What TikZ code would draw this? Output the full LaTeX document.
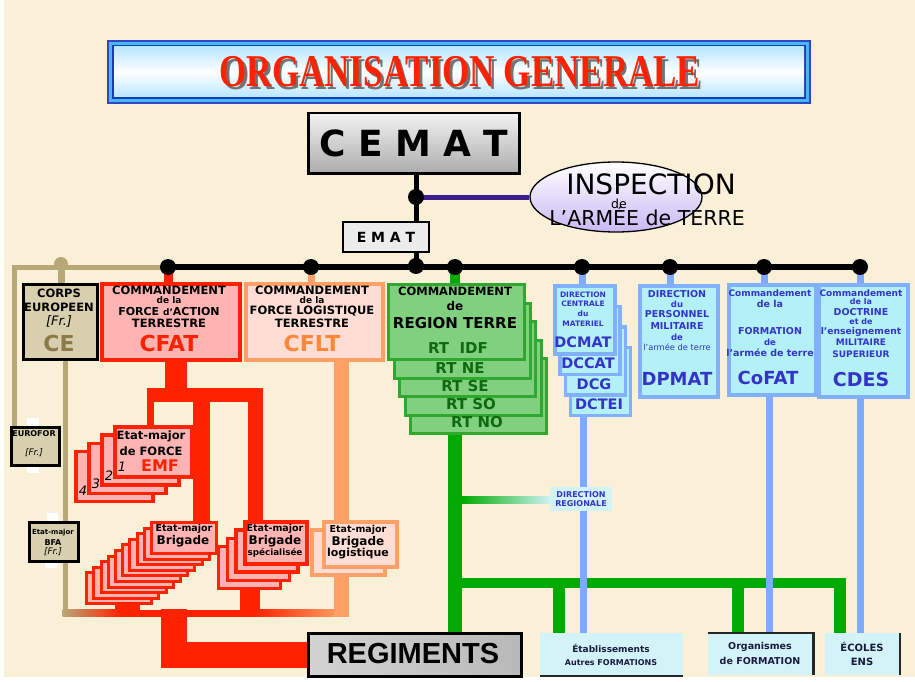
\documentclass[tikz,border=0pt]{standalone}
\usepackage{graphicx}
\usepackage{fontspec}
\setmainfont{DejaVu Sans}
\newfontfamily\titlefont{Liberation Serif}
\newfontfamily\regfont{Liberation Sans}
\usetikzlibrary{calc,shapes.geometric}
\pgfdeclarelayer{bgl}
\pgfdeclarelayer{lines}
\pgfsetlayers{bgl,lines,main}
\definecolor{bgc}{HTML}{FAF0D8}
\definecolor{tanc}{HTML}{B8A878}
\definecolor{tanfill}{HTML}{D8CFAE}
\definecolor{tantext}{HTML}{8C7A4A}
\definecolor{rd}{HTML}{FF2200}
\definecolor{pinkfill}{HTML}{FFB4B4}
\definecolor{org}{HTML}{FFA066}
\definecolor{orgfill}{HTML}{FFDCD4}
\definecolor{orgtext}{HTML}{FF8838}
\definecolor{grn}{HTML}{00AA00}
\definecolor{grnfill}{HTML}{80D080}
\definecolor{grnline}{HTML}{30A830}
\definecolor{grntext}{HTML}{0E6A0E}
\definecolor{blu}{HTML}{80AAFF}
\definecolor{blufill}{HTML}{B4F0F8}
\definecolor{bluline}{HTML}{80B0FF}
\definecolor{blutext}{HTML}{3434C8}
\definecolor{purp}{HTML}{3C1E8C}
\definecolor{lav}{HTML}{C8B8F4}
\definecolor{cyanlt}{HTML}{D2F4F8}
\definecolor{navy}{HTML}{1A1A40}
\definecolor{tb1}{HTML}{2A48C8}
\definecolor{tb2}{HTML}{48B8F0}
\definecolor{tb3}{HTML}{1A38B8}
\definecolor{tb4}{HTML}{B8E6FF}
\newcommand\fz[1]{\fontsize{#1}{#1}\selectfont}
\newcommand\titletext{\titlefont\bfseries\fz{35}\scalebox{1}[1.3]{ORGANISATION GENERALE}}
\begin{document}
\begin{tikzpicture}[x=1pt,y=-1pt,
  tx/.style={inner sep=0pt, font=\bfseries},
  itx/.style={inner sep=0pt, font=\itshape},
  rtx/.style={inner sep=0pt},
  bxs/.style={anchor=north west, inner sep=0pt},
  cebox/.style={bxs, fill=tanfill, draw=black, line width=2.5pt},
  redbox/.style={bxs, fill=pinkfill, draw=rd, line width=3.5pt},
  orgbox/.style={bxs, fill=orgfill, draw=org, line width=3.5pt},
  grnbox/.style={bxs, fill=grnfill, draw=grnline, line width=3pt},
  blubox/.style={bxs, fill=blufill, draw=bluline, line width=3.5pt},
  cybox/.style={bxs, fill=cyanlt},
]
\useasboundingbox (0,0) rectangle (915,682);
\begin{pgfonlayer}{bgl}
\fill[white] (0,0) rectangle (915,682);
\fill[bgc] (4,0) rectangle (915,677);
\end{pgfonlayer}

% ---------- title
\fill[tb1] (107,40) rectangle (811,104);
\fill[tb2] (109,42) rectangle (809,102);
\fill[tb3] (112,45) rectangle (806,99);
\shade[top color=tb4, bottom color=tb4, middle color=white] (114,47) rectangle (804,97);
\node[inner sep=0pt, text=rd] (title) at (460,73) {\rlap{\hspace{2.5pt}\raisebox{-2.5pt}{\color{black!55}\titletext}}\titletext};

% ---------- coordinates
\coordinate (c1) at (168,267);
\coordinate (c2) at (311,267);
\coordinate (c3) at (416,266);
\coordinate (c4) at (455,267);
\coordinate (c5) at (582,267);
\coordinate (c6) at (670,267);
\coordinate (c7) at (764,267);
\coordinate (c8) at (860,267);
\coordinate (cB) at (416,267);
\coordinate (cI) at (416,197);
\coordinate (tL) at (14,267);
\coordinate (tD) at (61,264);

% ---------- top boxes
\node[bxs, draw=black, line width=2.5pt, top color=gray!10, bottom color=gray!65, minimum width=211pt, minimum height=60pt] (cemat) at (307,112) {};
\node[inner sep=0pt] (cematt) at (cemat.center) {\bfseries\fz{36}C E M A T};
\node[ellipse, draw=black, line width=1.3pt, top color=white, bottom color=lav, minimum width=172pt, minimum height=70pt, inner sep=0pt] (insp) at (616,197) {};
\node[rtx] (insp1) at (651,184) {\fz{28}INSPECTION};
\node[rtx] (insp2) at (619,203.5) {\fz{12.5}de};
\node[rtx] (insp3) at (647,216) {\fz{20.5}L'ARMÉE de TERRE};
\node[bxs, draw=black, line width=2pt, fill=gray!15, minimum width=86pt, minimum height=30pt] (emat) at (342,221) {};
\node[tx] (ematt) at (emat.center) {\fz{14}E M A T};

% ---------- level-2 boxes
\node[cebox, minimum width=74pt, minimum height=75pt] (ce) at (22,283) {};
\node[redbox, minimum width=138pt, minimum height=76pt] (cfat) at (100,282) {};
\node[orgbox, minimum width=137pt, minimum height=76pt] (cflt) at (244,282) {};
\foreach \k in {4,...,0} \node[grnbox, minimum width=136pt, minimum height=75pt] (rt\k) at ({387+5.5*\k},{283+18.5*\k}) {};
\foreach \k in {3,...,0} \node[blubox, minimum width=60pt, minimum height=68pt] (dc\k) at ({553+5.3*\k},{284+20.5*\k}) {};
\node[blubox, minimum width=78pt, minimum height=111pt] (dpmat) at (638,284) {};
\node[blubox, minimum width=87pt, minimum height=110pt] (cofat) at (727,283) {};
\node[blubox, minimum width=89pt, minimum height=112pt] (cdes) at (817,283) {};

% ---------- lower left boxes
\fill[white] (27,418) rectangle (39,426);
\fill[white] (27,464) rectangle (39,473);
\fill[white] (47,513) rectangle (58,521);
\fill[white] (45,560) rectangle (57,568);
\node[cebox, minimum width=48pt, minimum height=38pt] (eurofor) at (10,426) {};
\node[cebox, minimum width=49pt, minimum height=39pt] (bfa) at (28,521) {};
\foreach \k in {3,2,1,0} \node[redbox, minimum width=77pt, minimum height=50pt] (emf\k) at ({113-13*\k},{425+8.3*\k}) {};
\foreach \k in {9,...,0} \node[redbox, line width=3pt, minimum width=65pt, minimum height=31pt] (brig\k) at ({150-7.2*\k},{521+5.6*\k}) {};
\foreach \k in {3,2,1,0} \node[redbox, minimum width=62pt, minimum height=42pt] (spec\k) at ({243-8.7*\k},{520+8.3*\k}) {};
\foreach \k in {1,0} \node[orgbox, minimum width=73pt, minimum height=45pt] (logi\k) at ({322-12*\k},{520+8*\k}) {};

% ---------- bottom boxes
\node[bxs, draw=black, line width=2.5pt, left color=gray!35, middle color=gray!3, right color=gray!55, minimum width=213pt, minimum height=43pt] (regiments) at (307,632) {};
\node[inner sep=0pt] (regt) at (413,654) {\regfont\bfseries\fz{29}REGIMENTS};
\node[cybox, minimum width=143pt, minimum height=43pt] (etab) at (540,633) {};
\node[cybox, minimum width=105pt, minimum height=42pt] (orga) at (708,633) {};
\node[cybox, minimum width=75pt, minimum height=42pt] (ecoles) at (825,633) {};
\draw[black!85, line width=2pt] (etab.south west) -- (etab.south east);
\draw[black!85, line width=2.5pt] (orga.north west) -- (orga.north east) -- (orga.south east);
\draw[black!85, line width=2pt] (ecoles.north east) -- (ecoles.south east);
\node[cybox, minimum width=62pt, minimum height=24pt] (dirreg) at (550,487) {};

% ---------- connectors
\begin{pgfonlayer}{lines}
\draw[line width=5pt] (cemat.south -| cB) -- (cB);
\draw[purp, line width=5pt] (cI) -- (insp.west);
% tan
\draw[tanc, line width=5pt, line join=miter] (tL |- eurofor.north) -- (tL) -- (c1);
\draw[tanc, line width=7pt] (tD) -- (tD |- ce.north);
\coordinate (tB) at (65,616.5);
\draw[tanc, line width=5pt] (tB |- ce.south) -- (tB);
% red
\coordinate (rA) at (176,402);
\coordinate (rL) at (146.5,395);
\coordinate (rR) at (263,395);
\coordinate (rE) at (150,395);
\coordinate (rM) at (201,395);
\coordinate (rS) at (255.5,395);
\coordinate (rB) at (127,613);
\coordinate (rC) at (250,613);
\coordinate (rD) at (173.5,609);
\draw[rd, line width=9pt] (c1) -- (c1 |- cfat.north);
\draw[rd, line width=22pt] (rA |- cfat.south) -- (rA);
\draw[rd, line width=14pt] (rL) -- (rR);
\draw[rd, line width=7pt] (rE) -- (rE |- emf0.north);
\draw[rd, line width=17pt] (rM) -- (rM |- brig0.north);
\draw[rd, line width=15pt] (rS) -- (rS |- spec0.north);
\draw[rd, line width=25pt] (rB |- brig9.south) -- (rB);
\draw[rd, line width=20pt] (rC |- spec3.south) -- (rC);
\shade[left color=tanc, right color=rd] (62.5,609.5) rectangle (120,616.5);
\fill[rd] (119.5,609.5) rectangle (255,616.5);
\shade[left color=rd, right color=org] (254.5,609.5) rectangle (341,616.5);
\draw[rd, line width=26pt, line join=miter] (rD) |- (regiments.west);
% orange
\coordinate (oX) at (341,616.5);
\draw[org, line width=7pt] (c2) -- (c2 |- cflt.north);
\draw[org, line width=15pt] (oX |- cflt.south) -- (oX |- logi0.north);
\draw[org, line width=15pt] (oX |- logi1.south) -- (oX);
% green
\coordinate (gX) at (455,583);
\coordinate (gL) at (448,583);
\coordinate (gR) at (846,583);
\coordinate (g1) at (559,583);
\coordinate (g2) at (738,583);
\coordinate (g3) at (840,583);
\draw[grn, line width=10pt] (c4) -- (c4 |- rt0.north);
\draw[grn, line width=14pt] (gX |- rt4.south) -- (gX |- regiments.north);
\draw[grn, line width=10pt] (gL) -- (gR);
\draw[grn, line width=12pt] (g1) -- (g1 |- etab.north);
\draw[grn, line width=12pt] (g2) -- (g2 |- orga.north);
\draw[grn, line width=12pt] (g3) -- (g3 |- ecoles.north);
\shade[left color=grn, right color=cyanlt] (462,496.5) rectangle (551,503.5);
% blue
\coordinate (b1) at (583,600);
\coordinate (b2) at (769,600);
\draw[blu, line width=7pt] (c5) -- (c5 |- dc0.north);
\draw[blu, line width=7pt] (b1 |- dc3.south) -- (b1 |- etab.north);
\draw[blu, line width=7pt] (c6) -- (c6 |- dpmat.north);
\draw[blu, line width=7pt] (c7) -- (c7 |- cofat.north);
\draw[blu, line width=7pt] (b2 |- cofat.south) -- (b2 |- orga.north);
\draw[blu, line width=7pt] (c8) -- (c8 |- cdes.north);
\draw[blu, line width=7pt] (c8 |- cdes.south) -- (c8 |- ecoles.north);
% main bar
\draw[line width=6pt] (c1) -- (c8);
\end{pgfonlayer}

% ---------- dots
\foreach \p in {c1,c2,c3,c4,c5,c6,c7,c8,cI} \fill (\p) circle (8pt);
\fill[tanc] (tD) circle (7pt);

% ---------- texts
% CE
\node[tx] (ce1) at (59,293) {\fz{11.5}CORPS};
\node[tx] (ce2) at (59,307) {\fz{11.5}EUROPEEN};
\node[itx] (ce3) at (59,321) {\fz{13}[Fr.]};
\node[tx, text=tantext] (ce4) at (59,343) {\fz{22}CE};
% CFAT
\node[tx] (fa1) at (169,290) {\fz{11.5}COMMANDEMENT};
\node[tx] (fa2) at (169,300) {\fz{9}de la};
\node[tx] (fa3) at (169,311) {\fz{11}FORCE {\fz{9}d'}ACTION};
\node[tx] (fa4) at (169,323) {\fz{11.5}TERRESTRE};
\node[tx, text=rd] (fa5) at (169,343) {\fz{22}CFAT};
% CFLT
\node[tx] (fl1) at (312,290) {\fz{11.5}COMMANDEMENT};
\node[tx] (fl2) at (312,300) {\fz{9}de la};
\node[tx] (fl3) at (312,311) {\fz{11.5}FORCE LOGISTIQUE};
\node[tx] (fl4) at (312,323) {\fz{11.5}TERRESTRE};
\node[tx, text=orgtext] (fl5) at (312,343) {\fz{22}CFLT};
% RT
\node[tx] (rt1t) at (455,291) {\fz{11.5}COMMANDEMENT};
\node[tx] (rt2t) at (455,306) {\fz{12}de};
\node[tx] (rt3t) at (455,323) {\fz{15}REGION TERRE};
\node[tx, text=grntext] (rta) at (458,348) {\fz{15}RT\ \ IDF};
\node[tx, text=grntext] (rtb) at (460,368) {\fz{15}RT NE};
\node[tx, text=grntext] (rtc) at (465,386) {\fz{15}RT SE};
\node[tx, text=grntext] (rtd) at (471,404) {\fz{15}RT SO};
\node[tx, text=grntext] (rte) at (477,422) {\fz{15}RT NO};
% DC
\node[tx, text=blutext] (dct1) at (583,295) {\fz{7.5}DIRECTION};
\node[tx, text=blutext] (dct2) at (583,304) {\fz{7.5}CENTRALE};
\node[tx, text=blutext] (dct3) at (583,314) {\fz{7.5}du};
\node[tx, text=blutext] (dct4) at (583,324) {\fz{7.5}MATERIEL};
\node[tx, text=blutext] (dct5) at (583,342) {\fz{14.5}DCMAT};
\node[tx, text=blutext] (dct6) at (588,363) {\fz{14.5}DCCAT};
\node[tx, text=blutext] (dct7) at (594,384) {\fz{14.5}DCG};
\node[tx, text=blutext] (dct8) at (599,404) {\fz{14.5}DCTEI};
% DPMAT
\node[tx, text=blutext] (dp1) at (677,294) {\fz{9.5}DIRECTION};
\node[tx, text=blutext] (dp2) at (677,304) {\fz{8.5}du};
\node[tx, text=blutext] (dp3) at (677,314) {\fz{9.5}PERSONNEL};
\node[tx, text=blutext] (dp4) at (677,326) {\fz{9.5}MILITAIRE};
\node[tx, text=blutext] (dp5) at (677,337) {\fz{8.5}de};
\node[rtx, text=blutext] (dp6) at (677,347) {\fz{8.3}l'armée de terre};
\node[tx, text=blutext] (dp7) at (677,379) {\fz{18}DPMAT};
% CoFAT
\node[tx, text=blutext] (cf1) at (770,293) {\fz{9}Commandement};
\node[tx, text=blutext] (cf2) at (770,304) {\fz{9.5}de la};
\node[tx, text=blutext] (cf3) at (770,331) {\fz{9.5}FORMATION};
\node[tx, text=blutext] (cf4) at (770,342) {\fz{8.5}de};
\node[tx, text=blutext] (cf5) at (770,353) {\fz{9.5}l'armée de terre};
\node[tx, text=blutext] (cf6) at (768,378) {\fz{18}CoFAT};
% CDES
\node[tx, text=blutext] (cd1) at (861,293) {\fz{9}Commandement};
\node[tx, text=blutext] (cd2) at (861,302) {\fz{8}de la};
\node[tx, text=blutext] (cd3) at (861,312) {\fz{9.5}DOCTRINE};
\node[tx, text=blutext] (cd4) at (861,322) {\fz{8}et de};
\node[tx, text=blutext] (cd5) at (861,332) {\fz{9.2}l'enseignement};
\node[tx, text=blutext] (cd6) at (861,342) {\fz{9}MILITAIRE};
\node[tx, text=blutext] (cd7) at (861,354) {\fz{9}SUPERIEUR};
\node[tx, text=blutext] (cd8) at (861,380) {\fz{19}CDES};
% direction regionale
\node[tx, text=blutext] (dr1) at (581,495) {\fz{8}DIRECTION};
\node[tx, text=blutext] (dr2) at (581,504) {\fz{8}REGIONALE};
% EUROFOR, BFA
\node[tx] (eu1) at (34,434) {\fz{8}EUROFOR};
\node[itx] (eu2) at (34,453) {\fz{9}[Fr.]};
\node[tx] (bf1) at (53,533) {\fz{7}Etat-major};
\node[tx] (bf2) at (53,543) {\fz{8}BFA};
\node[itx] (bf3) at (53,552) {\fz{9}[Fr.]};
% EMF
\node[tx] (em1) at (151,436) {\fz{11.5}Etat-major};
\node[tx] (em2) at (151,451) {\fz{11.5}de FORCE};
\node[tx, text=rd] (em3) at (160,466) {\fz{16}EMF};
\node[itx] (n1) at (122,467) {\fz{13}1};
\node[itx] (n2) at (109,476) {\fz{13}2};
\node[itx] (n3) at (96,484) {\fz{13}3};
\node[itx] (n4) at (83,491) {\fz{13}4};
% brigades
\node[tx] (br1) at (184,529) {\fz{9.5}Etat-major};
\node[tx] (br2) at (183,541) {\fz{12}Brigade};
\node[tx] (sp1) at (275,529) {\fz{9.5}Etat-major};
\node[tx] (sp2) at (275,541) {\fz{12}Brigade};
\node[tx] (sp3) at (275,553) {\fz{8.8}spécialisée};
\node[tx] (lg1) at (358,530) {\fz{9.5}Etat-major};
\node[tx] (lg2) at (358,542) {\fz{12}Brigade};
\node[tx] (lg3) at (358,554) {\fz{11}logistique};
% bottom
\node[tx, text=navy] (et1) at (611,648) {\fz{9}Établissements};
\node[tx, text=navy] (et2) at (611,663) {\fz{8}Autres FORMATIONS};
\node[tx, text=navy] (or1) at (760,647) {\fz{9.5}Organismes};
\node[tx, text=navy] (or2) at (760,661) {\fz{9.5}de FORMATION};
\node[tx, text=navy] (ec1) at (862,647) {\fz{10}ÉCOLES};
\node[tx, text=navy] (ec2) at (862,662) {\fz{10}ENS};
\end{tikzpicture}
\end{document}
